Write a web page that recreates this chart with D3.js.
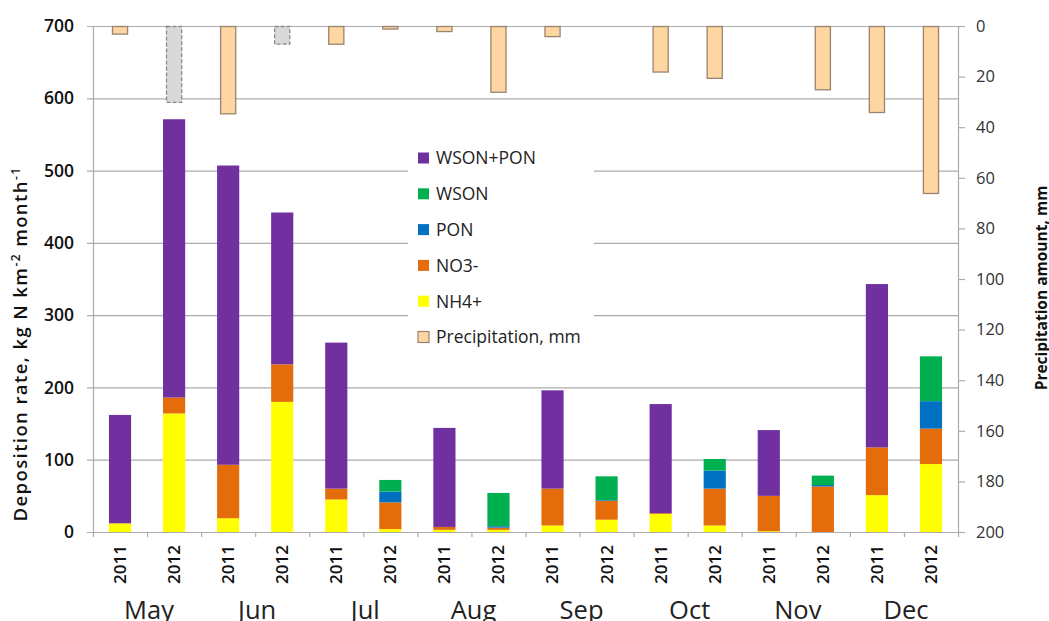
<!DOCTYPE html>
<html><head><meta charset="utf-8">
<script src="https://cdn.jsdelivr.net/npm/d3@7"></script>
<style>
html,body{margin:0;padding:0;background:#fff;}
svg{display:block;font-family:"Open Sans",sans-serif;}
</style></head>
<body>
<svg id="chart" width="1049" height="621"></svg>
<script>
const months = ["May","Jun","Jul","Aug","Sep","Oct","Nov","Dec"];
const years = ["2011","2012"];
const nh4     = [12,164,19,180,45,4,3,3,9,17,25,9,1,0,51,94];
const no3     = [0,22,74,52,15,37,4,3,51,26,1,51,49,63,66,49];
const pon     = [0,0,0,0,0,15,0,2,0,1,0,25,0,2,0,38];
const wson    = [0,0,0,0,0,16,0,46,0,33,0,16,0,13,0,62];
const wsonPon = [150,385,414,210,202,0,137,0,136,0,151,0,91,0,226,0];
const precip  = [3,30,34.5,7,7,1,2,26,4,0,18,20.5,0,25,34,66];
const precipGapFilled = [false,true,false,true,false,false,false,false,false,false,false,false,false,false,false,false];
const leftTicks = [0,100,200,300,400,500,600,700];
const rightTicks = [0,20,40,60,80,100,120,140,160,180,200];

const seriesKeys = ["NH4+","NO3-","PON","WSON","WSON+PON"];
const seriesVals = [nh4,no3,pon,wson,wsonPon];
const colors = {"NH4+":"#FFFF00","NO3-":"#E46C0A","PON":"#0070C0","WSON":"#00B050","WSON+PON":"#7030A0"};

const cats = [];
months.forEach(m => years.forEach(y => cats.push(m + " " + y)));
const rows = cats.map((c,i) => {
  const r = {cat:c, year:c.split(" ")[1], month:c.split(" ")[0], precip:precip[i], gap:precipGapFilled[i]};
  seriesKeys.forEach((k,j) => r[k] = seriesVals[j][i]);
  return r;
});

const L = 93, R = 958, T = 26, B = 532;
const svg = d3.select("#chart");
const x = d3.scaleBand().domain(cats).range([L,R]).padding(0);
const y = d3.scaleLinear().domain([0,700]).range([B,T]);
const yR = d3.scaleLinear().domain([0,200]).range([T,B]);
const barW = x.bandwidth()*0.41;
const pW = x.bandwidth()*0.28;
const gridC = "#ababab";

// gridlines
svg.append("g").selectAll("line").data(leftTicks).join("line")
  .attr("x1",L-6).attr("x2",R).attr("y1",d=>y(d)+0.5).attr("y2",d=>y(d)+0.5)
  .attr("stroke",gridC).attr("stroke-width",1.2);

// precipitation bars
svg.append("g").selectAll("rect").data(rows.filter(r=>r.precip>0)).join("rect")
  .attr("x",d=>x(d.cat)+x.bandwidth()/2-pW/2)
  .attr("y",yR(0)+0.5)
  .attr("width",pW)
  .attr("height",d=>yR(d.precip)-yR(0))
  .attr("fill",d=>d.gap?"#D9D9D9":"#FDD6A2")
  .attr("stroke",d=>d.gap?"#8a8a8a":"#9a8470")
  .attr("stroke-width",1.3)
  .attr("stroke-dasharray",d=>d.gap?"4,2":null);

// stacked deposition bars
const stack = d3.stack().keys(seriesKeys)(rows);
svg.append("g").selectAll("g").data(stack).join("g")
  .attr("fill",d=>colors[d.key])
  .selectAll("rect").data(d=>d.filter(s=>s[1]-s[0]>0)).join("rect")
  .attr("x",d=>x(d.data.cat)+x.bandwidth()/2-barW/2)
  .attr("y",d=>y(d[1]))
  .attr("width",barW)
  .attr("height",d=>y(d[0])-y(d[1]));

// axes lines
svg.append("line").attr("x1",L+0.5).attr("x2",L+0.5).attr("y1",T).attr("y2",B+5).attr("stroke",gridC).attr("stroke-width",1.2);
svg.append("line").attr("x1",R+0.5).attr("x2",R+0.5).attr("y1",T).attr("y2",B+5).attr("stroke",gridC).attr("stroke-width",1.2);
// x ticks at category boundaries
svg.append("g").selectAll("line").data(cats.slice(1)).join("line")
  .attr("x1",d=>x(d)+0.5).attr("x2",d=>x(d)+0.5).attr("y1",B).attr("y2",B+5)
  .attr("stroke",gridC).attr("stroke-width",1.2);

// left tick labels
svg.append("g").selectAll("text").data(leftTicks).join("text")
  .attr("x",74).attr("y",d=>y(d)).attr("dy","0.35em").attr("text-anchor","end")
  .attr("font-size",17.5).attr("font-weight",600).attr("fill","#111").text(d=>d);

// right axis ticks + labels
svg.append("g").selectAll("line").data(rightTicks).join("line")
  .attr("x1",R).attr("x2",R+7).attr("y1",d=>yR(d)+0.5).attr("y2",d=>yR(d)+0.5)
  .attr("stroke",gridC).attr("stroke-width",1.2);
svg.append("g").selectAll("text").data(rightTicks).join("text")
  .attr("x",976).attr("y",d=>yR(d)).attr("dy","0.35em")
  .attr("font-size",16.5).attr("fill","#333").text(d=>d);

// year labels
svg.append("g").selectAll("text").data(rows).join("text")
  .attr("transform",d=>`translate(${x(d.cat)+x.bandwidth()/2},545) rotate(-90)`)
  .attr("dy","0.35em").attr("text-anchor","end")
  .attr("font-size",17).attr("font-weight",600).attr("fill","#111").text(d=>d.year);

// month labels
svg.append("g").selectAll("text").data(months).join("text")
  .attr("x",m=>x(m+" 2012")+2).attr("y",619).attr("text-anchor","middle")
  .attr("font-size",25.5).attr("fill","#222").text(m=>m);

// axis titles
const lt = svg.append("text").attr("transform","translate(27,344) rotate(-90)")
  .attr("text-anchor","middle").attr("font-size",18.5).attr("font-weight",600)
  .attr("letter-spacing",1.4).attr("fill","#111");
lt.append("tspan").text("Deposition rate, kg N km");
lt.append("tspan").attr("dy",-7).attr("font-size",12).text("-2");
lt.append("tspan").attr("dy",7).text(" month");
lt.append("tspan").attr("dy",-7).attr("font-size",12).text("-1");

svg.append("text").attr("transform","translate(1047,288) rotate(-90)")
  .attr("text-anchor","middle").attr("font-size",15.5).attr("font-weight",700).attr("fill","#111")
  .text("Precipitation amount, mm");

// legend
const legendItems = [
  {label:"WSON+PON", fill:colors["WSON+PON"], stroke:null},
  {label:"WSON", fill:colors["WSON"], stroke:null},
  {label:"PON", fill:colors["PON"], stroke:null},
  {label:"NO3-", fill:colors["NO3-"], stroke:null},
  {label:"NH4+", fill:colors["NH4+"], stroke:null},
  {label:"Precipitation, mm", fill:"#FDD6A2", stroke:"#9a8470"}
];
const lg = svg.append("g");
lg.append("rect").attr("x",408).attr("y",138).attr("width",186).attr("height",218).attr("fill","#fff");
const li = lg.selectAll("g").data(legendItems).join("g")
  .attr("transform",(d,i)=>`translate(418,${158+i*35.8})`);
li.append("rect").attr("x",0).attr("y",-5.5).attr("width",11).attr("height",11)
  .attr("fill",d=>d.fill).attr("stroke",d=>d.stroke).attr("stroke-width",1.2);
li.append("text").attr("x",18).attr("dy","0.36em").attr("font-size",17.5).attr("fill","#222").text(d=>d.label);
</script>
</body></html>
